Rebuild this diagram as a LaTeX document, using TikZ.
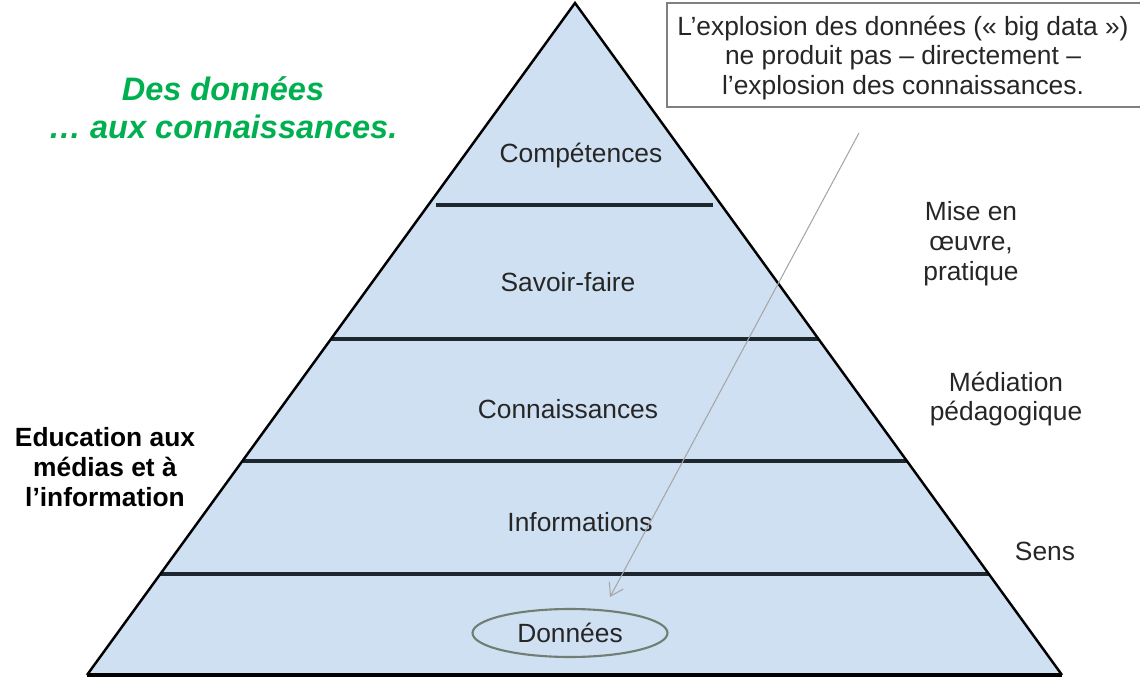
\documentclass[tikz,border=0pt]{standalone}
\usepackage{fontspec}
\setmainfont{Liberation Sans}
\usetikzlibrary{shapes.geometric,arrows.meta}
\definecolor{pyrfill}{RGB}{207,224,242}
\definecolor{titlegreen}{RGB}{0,176,80}
\definecolor{ringgray}{RGB}{112,126,116}
\definecolor{inkgray}{RGB}{38,38,38}
\definecolor{bargray}{RGB}{30,38,46}
\tikzset{
  layer/.style={font=\fontsize{15}{17}\selectfont,text=inkgray},
  side/.style={font=\fontsize{15}{17}\selectfont,text=inkgray,align=center},
  bar/.style={line width=1.8pt,bargray},
}
\begin{document}
\begin{tikzpicture}[x=0.02cm,y=-0.02cm,>={Straight Barb[length=7pt,width=9pt]}]
  \useasboundingbox (0,0) rectangle (1140,679);
  % pyramid
  \coordinate (top) at (575,3);
  \coordinate (bl) at (87,675);
  \coordinate (br) at (1062,675);
  \fill[pyrfill](top)--(bl)--(br)--cycle;
  \draw[bar](436,205)--(713,205);
  \draw[bar](331,339)--(819,339);
  \draw[bar](243,461)--(907,461);
  \draw[bar](160,574)--(989,574);
  \draw[line width=1.4pt,line join=miter](bl)--(top)--(br);
  \draw[line width=2pt](bl)--(br);
  % layers
  \node[layer](comp)at(581,156){Compétences};
  \node[layer](savoir)at(568,282){Savoir-faire};
  \node[layer](conn)at(568,409){Connaissances};
  \node[layer](info)at(580,522){Informations};
  \node[layer,ellipse,draw=ringgray,line width=1.2pt,minimum width=3.9cm,minimum height=0.96cm,inner sep=0pt](donnees)at(570,633){Données};
  % side texts
  \node[font=\fontsize{18.5}{21.5}\selectfont\bfseries\itshape,text=titlegreen,align=center](titre)at(223,108){Des données\\… aux connaissances.};
  \node[side,font=\fontsize{15}{17}\selectfont\bfseries,text=black](emi)at(105,467){Education aux\\médias et à\\l’information};
  \node[side](mise)at(971,244){Mise en\\œuvre,\\pratique};
  \node[side](medi)at(1006,399){Médiation\\pédagogique};
  \node[side](sens)at(1045,551){Sens};
  \fill[white](667,3)rectangle(1140,107);
  \draw[gray,line width=0.8pt](1140,3)--(667,3)--(667,107)--(1140,107);
  \node[side](bigdata)at(903,58)
    {L’explosion des données (« big data »)\\ne produit pas – directement –\\l'explosion des connaissances.};
  % arrow
  \coordinate (tail) at (859,133);
  \coordinate (tip) at (610,597);
  \draw[->,gray!70,line width=0.6pt](tail)--(tip);
\end{tikzpicture}
\end{document}
